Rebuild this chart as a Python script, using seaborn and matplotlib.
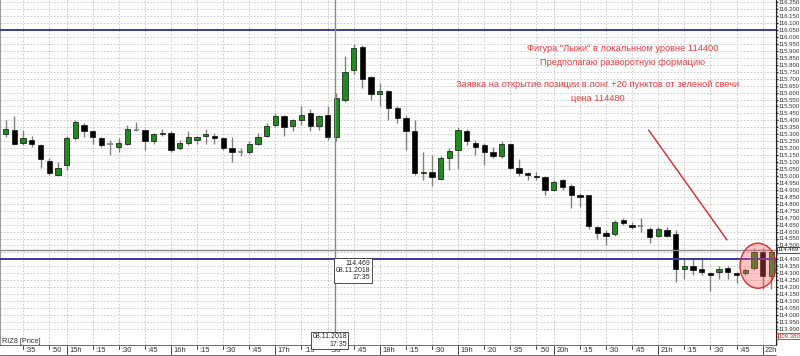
import numpy as np
import pandas as pd
import matplotlib
matplotlib.use("Agg")
import matplotlib.pyplot as plt
import matplotlib.transforms as mtransforms
from matplotlib.patches import Ellipse
from matplotlib.ticker import MultipleLocator, FuncFormatter
import seaborn as sns

# ---------------- data (RIZ8, 5-minute candles, 08.11.2018) ----------------
opens = [115.30, 115.33, 115.24, 115.26, 115.22, 115.11, 115.01, 115.08, 115.27, 115.37,
         115.32, 115.27, 115.23, 115.21, 115.23, 115.33, 115.33, 115.25, 115.30, 115.31,
         115.20, 115.24, 115.26, 115.29, 115.29, 115.27, 115.20, 115.17, 115.17, 115.23,
         115.29, 115.37, 115.43, 115.36, 115.40, 115.45, 115.36, 115.44, 115.28, 115.55,
         115.76, 115.93, 115.71, 115.59, 115.61, 115.49, 115.42, 115.32, 115.02, 115.03,
         114.98, 115.13, 115.19, 115.32, 115.24, 115.22, 115.17, 115.14, 115.23, 115.06,
         115.02, 115.00, 114.99, 114.90, 114.97, 114.93, 114.86, 114.86, 114.63, 114.59,
         114.58, 114.68, 114.65, 114.64, 114.62, 114.57, 114.61, 114.58, 114.33, 114.35,
         114.33, 114.30, 114.31, 114.34, 114.30, 114.30, 114.34, 114.45, 114.28]
highs = [115.40, 115.43, 115.33, 115.29, 115.23, 115.13, 115.10, 115.29, 115.40, 115.38,
         115.33, 115.28, 115.26, 115.27, 115.37, 115.39, 115.34, 115.31, 115.34, 115.32,
         115.26, 115.32, 115.29, 115.34, 115.31, 115.28, 115.28, 115.20, 115.25, 115.31,
         115.38, 115.45, 115.44, 115.41, 115.50, 115.48, 115.44, 115.50, 115.60, 115.86,
         115.95, 115.94, 115.72, 115.67, 115.62, 115.50, 115.44, 115.40, 115.17, 115.15,
         115.14, 115.20, 115.35, 115.34, 115.26, 115.24, 115.21, 115.25, 115.24, 115.12,
         115.03, 115.03, 115.00, 114.97, 114.98, 114.94, 114.88, 114.86, 114.64, 114.61,
         114.68, 114.70, 114.67, 114.70, 114.63, 114.63, 114.63, 114.61, 114.41, 114.41,
         114.41, 114.31, 114.35, 114.35, 114.31, 114.34, 114.48, 114.48, 114.47]
lows = [115.28, 115.22, 115.22, 115.21, 115.06, 115.01, 115.00, 115.04, 115.26, 115.28,
        115.23, 115.21, 115.15, 115.17, 115.22, 115.32, 115.19, 115.23, 115.29, 115.17,
        115.19, 115.22, 115.23, 115.23, 115.23, 115.19, 115.10, 115.14, 115.16, 115.22,
        115.28, 115.35, 115.29, 115.32, 115.37, 115.32, 115.33, 115.26, 115.25, 115.53,
        115.73, 115.63, 115.55, 115.50, 115.40, 115.38, 115.19, 115.01, 114.97, 114.93,
        114.97, 115.04, 115.05, 115.22, 115.15, 115.08, 115.13, 115.13, 115.05, 115.00,
        114.97, 114.97, 114.86, 114.89, 114.90, 114.77, 114.78, 114.62, 114.55, 114.50,
        114.57, 114.65, 114.62, 114.60, 114.52, 114.56, 114.56, 114.24, 114.26, 114.29,
        114.29, 114.17, 114.26, 114.26, 114.23, 114.29, 114.32, 114.19, 114.19]
closes = [115.34, 115.23, 115.27, 115.23, 115.12, 115.02, 115.06, 115.27, 115.39, 115.32,
          115.28, 115.22, 115.23, 115.24, 115.34, 115.33, 115.25, 115.30, 115.31, 115.19,
          115.24, 115.28, 115.28, 115.30, 115.27, 115.20, 115.17, 115.17, 115.23, 115.28,
          115.36, 115.43, 115.35, 115.40, 115.44, 115.36, 115.43, 115.28, 115.56, 115.75,
          115.92, 115.70, 115.59, 115.61, 115.49, 115.42, 115.32, 115.02, 115.03, 114.99,
          115.13, 115.18, 115.33, 115.25, 115.21, 115.17, 115.14, 115.23, 115.06, 115.02,
          115.01, 114.99, 114.90, 114.96, 114.92, 114.86, 114.85, 114.64, 114.59, 114.57,
          114.67, 114.66, 114.63, 114.64, 114.56, 114.62, 114.57, 114.33, 114.35, 114.32,
          114.31, 114.29, 114.33, 114.31, 114.29, 114.32, 114.45, 114.28, 114.45]

tick_pos = [2, 5, 7, 10, 13, 16, 19, 22, 25, 28, 31, 34, 37, 40, 43, 46, 49, 52, 55, 58,
            61, 63, 66, 69, 72, 75, 78, 81, 84, 87]
tick_labels = [":35", ":50", "15h", ":15", ":30", ":45", "16h", ":15", ":30", ":45",
               "17h", ":15", ":30", ":45", "18h", ":15", ":30", "19h", ":20", ":35",
               ":50", "20h", ":15", ":30", ":45", "21h", ":15", ":30", ":45", "22h"]
price_ticks = [round(113.90 + 0.05 * k, 3) for k in range(48)]

level_prices = [116.050, 114.400]
cursor_price = 114.469
cursor_index = 37.85
trend_x = [73.9, 82.9]
trend_y = [115.33, 114.54]

note_a = ['Фигура "Лыжи" в локальнном уровне 114400', 'Предполагаю разворотную формацию']
note_b = ['Заявка на открытие позиции в лонг +20 пунктов от зеленой свечи', 'цена 114480']

df = pd.DataFrame({"idx": np.arange(len(opens)), "open": opens, "high": highs,
                   "low": lows, "close": closes})

# ---------------- figure ----------------
sns.set_style("white")
plt.rcParams["font.family"] = ["DejaVu Sans"]
NARROW = ["Liberation Sans Narrow", "Liberation Sans", "DejaVu Sans"]

W, H = 800, 356
fig = plt.figure(figsize=(W / 100, H / 100), dpi=100)
ax = fig.add_axes([0, 11 / H, 776 / W, 345 / H])

px_per_candle = 8.7
x0 = 5.7
px_per_unit = 139.0
ax.set_xlim(-x0 / px_per_candle, (776 - x0) / px_per_candle)
ax.set_ylim(116.05 - 315 / px_per_unit, 116.05 + 30 / px_per_unit)

# grid
ax.set_xticks(tick_pos)
ax.set_yticks(price_ticks)
ax.yaxis.set_minor_locator(MultipleLocator(0.01))
ax.grid(True, which="major", color="#c4c4c4", lw=0.6, ls=(0, (2, 2)))
ax.set_axisbelow(True)

# candles
GREEN = "#1f8a1f"
width = 0.6
wick_col = "#808080"
ax.vlines(df["idx"], df["low"], df["high"], color=wick_col, lw=1.0, zorder=2)
for _, r in df.iterrows():
    o, c = r["open"], r["close"]
    if abs(c - o) < 1e-9:
        ax.hlines(o, r["idx"] - width / 2, r["idx"] + width / 2, color=wick_col, lw=1.2, zorder=3)
        continue
    col = GREEN if c > o else "black"
    ax.bar(r["idx"], abs(c - o), bottom=min(o, c), width=width, color=col,
           edgecolor="#101010", lw=0.5, zorder=3)

# level lines
for p in level_prices:
    ax.axhline(p, color="#3b3b9e", lw=1.4, zorder=4)
ax.axhline(cursor_price, color="#8a8a8a", lw=1.0, zorder=4)
ax.axvline(cursor_index, color="#8a8a8a", lw=1.0, zorder=4)

# trend line
sns.lineplot(x=trend_x, y=trend_y, ax=ax, color="#d23a3a", lw=1.1, zorder=5)

# circle highlight
ell = Ellipse((86.47, 114.354), 4.14, 0.324, facecolor=(1.0, 0.35, 0.35, 0.35),
              edgecolor="#d03030", lw=1.0, zorder=6)
ax.add_patch(ell)

# notes
RED = "#e04040"
fs_note = 6.7
note_font = ["Liberation Sans", "DejaVu Sans"]
ax.text(70.95, 115.918, note_a[0], color=RED, fontsize=fs_note, ha="center", va="center",
        family=note_font)
ax.text(70.9, 115.815, note_a[1], color=RED, fontsize=fs_note, ha="center", va="center",
        family=note_font)
ax.text(68.02, 115.659, note_b[0], color=RED, fontsize=fs_note, ha="center", va="center",
        family=note_font)
ax.text(68.08, 115.559, note_b[1], color=RED, fontsize=fs_note, ha="center", va="center",
        family=note_font)

# cursor info box
ax.text(41.87, 114.396, "114.469\n08.11.2018\n17:35", fontsize=5.0, ha="right", va="top",
        multialignment="right", linespacing=1.0, zorder=8, family=NARROW,
        bbox=dict(boxstyle="square,pad=0.25", fc="white", ec="#333333", lw=0.6))

# axes styling (the 114.450 label sits under the cursor price box)
ax.yaxis.tick_right()
ax.yaxis.set_major_formatter(
    FuncFormatter(lambda v, _: "" if abs(v - 114.45) < 1e-6 else f"{v:.3f}"))
ax.tick_params(axis="y", which="major", labelsize=4.3, length=1.6, pad=0.3,
               colors="#222222", labelcolor="#333333", direction="out")
ax.tick_params(axis="y", which="minor", length=1.0, color="#444444", direction="out")
for lab in ax.get_yticklabels():
    lab.set_family(NARROW)
ax.tick_params(axis="x", which="both", length=0, labelbottom=False)
ax.spines["top"].set_visible(False)
ax.spines["right"].set_color("#222222")
ax.spines["right"].set_linewidth(0.8)
ax.spines["left"].set_color("#999999")
ax.spines["left"].set_linewidth(0.8)
ax.spines["bottom"].set_color("#555555")
ax.spines["bottom"].set_linewidth(0.6)

# time axis strip
trans = mtransforms.blended_transform_factory(ax.transData, fig.transFigure)
trans_txt = mtransforms.offset_copy(trans, fig=fig, x=2.5, y=0, units="dots")
for pos, lab in zip(tick_pos, tick_labels):
    hour = lab.endswith("h")
    y_top = 1 - 346 / H
    y_bot = 1 - (354 if hour else 349) / H
    ax.plot([pos, pos], [y_top, y_bot], transform=trans, color="#444444", lw=0.7,
            clip_on=False)
    ax.text(pos, 1 - 350.5 / H, lab, transform=trans_txt, fontsize=5.4, ha="left",
            va="center", color="#333333", family=NARROW)
fig.add_artist(plt.Line2D([0, 776 / W], [1 - 354.5 / H, 1 - 354.5 / H],
                          transform=fig.transFigure, color="#555555", lw=0.6))

fig.text(2 / W, 1 - 341.5 / H, "RIZ8 [Price]", fontsize=5.2, va="center", ha="left",
         color="#333333", family=NARROW)
fig.text(347 / W, 1 - 333.5 / H, "08.11.2018\n17:35", fontsize=5.0, ha="right", va="top",
         multialignment="right", linespacing=1.0, family=NARROW,
         bbox=dict(boxstyle="square,pad=0.2", fc="white", ec="#333333", lw=0.6))
fig.text(778 / W, 1 - 249.8 / H, "114.469", fontsize=4.3, ha="left", va="center",
         color="#222222", family=NARROW, zorder=10,
         bbox=dict(boxstyle="square,pad=0.12", fc="white", ec="#333333", lw=0.6))
fig.text(779 / W, 1 - 336 / H, "109.380", fontsize=4.3, ha="left", va="center",
         color="#c03030", family=NARROW, zorder=10,
         bbox=dict(boxstyle="square,pad=0.1", fc="white", ec="#c03030", lw=0.6))

fig.savefig("out.png", dpi=100)
